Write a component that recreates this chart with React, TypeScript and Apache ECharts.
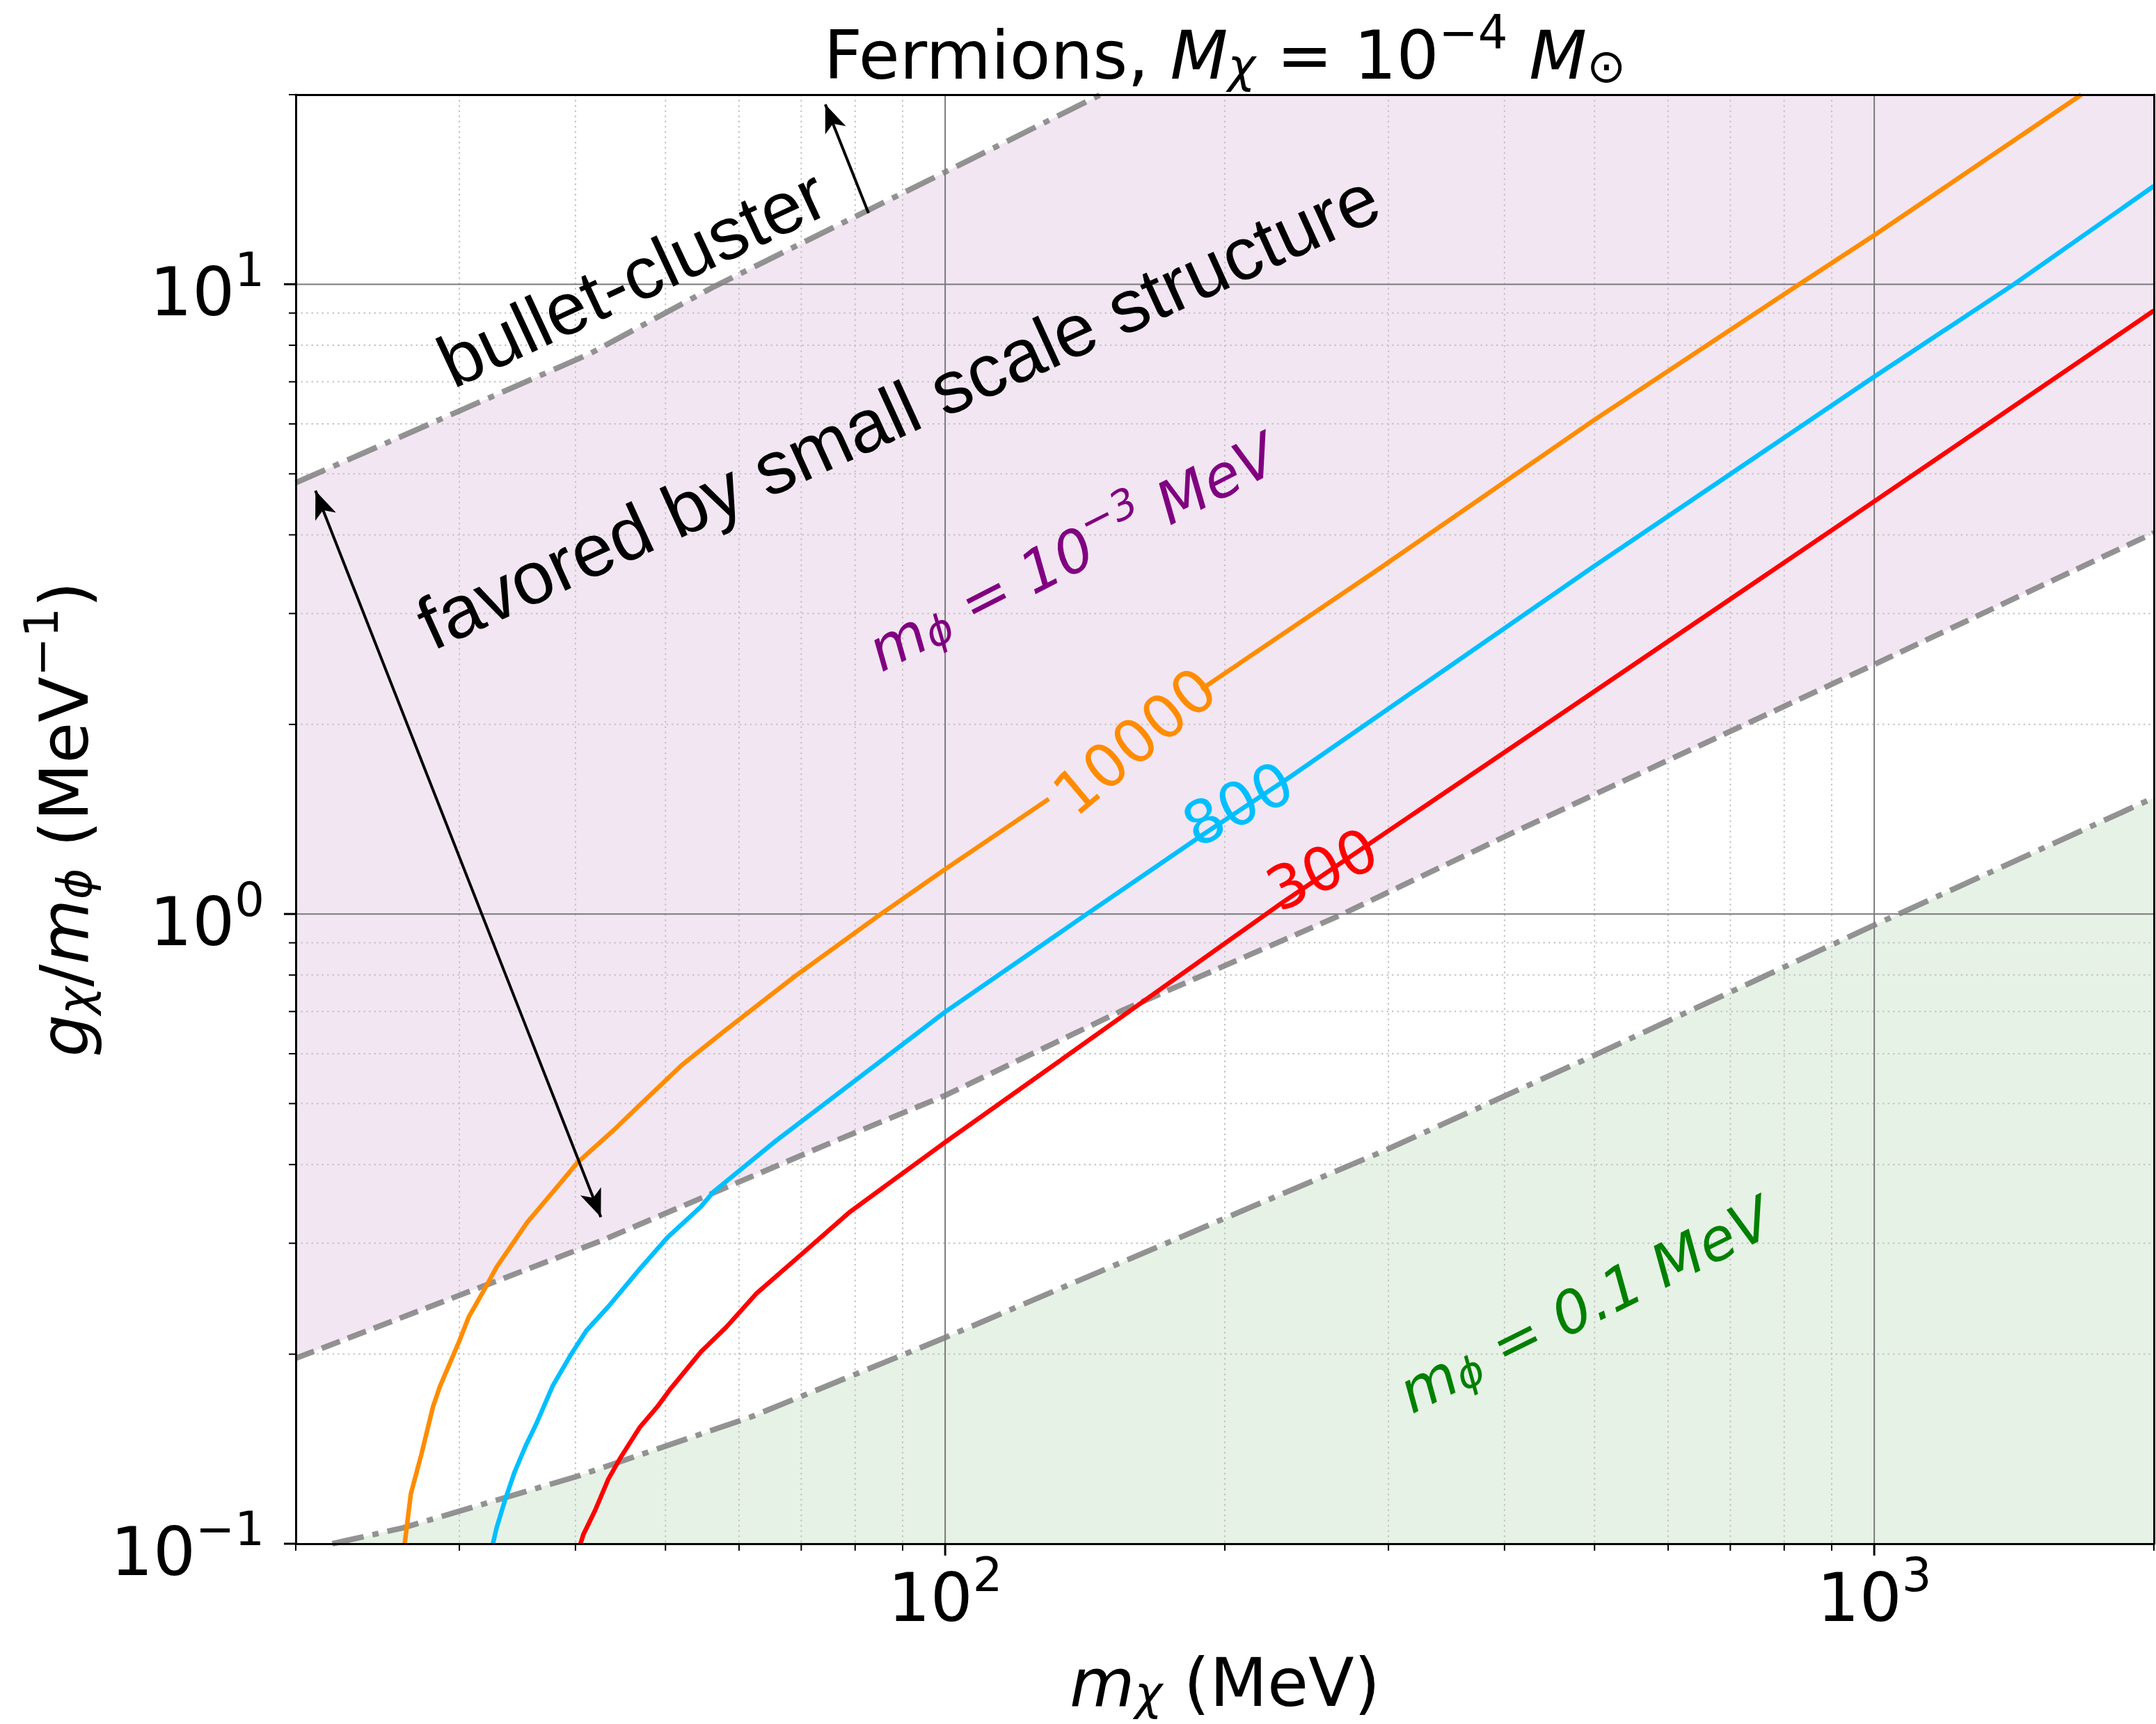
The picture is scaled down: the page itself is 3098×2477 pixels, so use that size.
import React, { useEffect, useRef } from "react";
import * as echarts from "echarts";

const W = 3098;
const H = 2477;
const X_MIN = 20;
const X_MAX = 2000;
const Y_MIN = 0.1;
const Y_MAX = 20;
const FONT = "DejaVu Sans";

// contour curves (m_chi, g/m_phi)
const orangeX = [26.2, 26.6, 27.3, 28.1, 28.6, 30.0, 30.7, 31.9, 32.9, 35.5, 38.6, 40.2, 44.0, 46.9, 52.1, 58.1, 68.8, 85.3, 100, 129.3, 188.7, 289.6, 498, 839, 1000, 1671];
const orangeY = [0.1, 0.12, 0.1385, 0.165, 0.178, 0.21, 0.229, 0.253, 0.275, 0.324, 0.375, 0.403, 0.454, 0.497, 0.576, 0.655, 0.795, 1.0, 1.178, 1.523, 2.275, 3.49, 6.07, 10.1, 11.96, 20.0];
const orangeGap = [129.3, 188.7];

const blueX = [32.6, 32.9, 33.6, 34.4, 35.4, 36.3, 37.8, 39.5, 41.1, 43.4, 46.9, 50.2, 54.6, 56.3, 65.7, 76.1, 100, 142.1, 188.9, 235.1, 498, 1000, 1414, 2000];
const blueY = [0.1, 0.106, 0.1174, 0.13, 0.1436, 0.155, 0.178, 0.199, 0.218, 0.238, 0.273, 0.306, 0.343, 0.362, 0.436, 0.514, 0.699, 1.0, 1.333, 1.651, 3.556, 7.13, 10.0, 14.32];

const redX = [40.5, 40.8, 42.0, 43.4, 44.7, 46.9, 49.0, 50.6, 54.6, 58.1, 62.7, 69.9, 79.0, 100, 158.2, 230.3, 295.7, 498.4, 1000, 2000];
const redY = [0.1, 0.1035, 0.113, 0.1267, 0.1368, 0.153, 0.165, 0.176, 0.2018, 0.2206, 0.25, 0.2874, 0.3366, 0.434, 0.702, 1.041, 1.336, 2.25, 4.52, 9.08];

// boundaries
const dashedX = [20, 42.7, 76.1, 100, 154.9, 266, 404, 498.5, 1000, 2000];
const dashedY = [0.197, 0.303, 0.436, 0.515, 0.702, 0.995, 1.336, 1.545, 2.49, 4.03];

const bulletX = [20, 41.4, 56.3, 100, 147];
const bulletY = [4.84, 7.75, 9.9, 15.07, 20];

const lowerX = [21.9, 26.1, 40.2, 61.8, 100, 214, 296, 498, 1000, 2000];
const lowerY = [0.1, 0.106, 0.128, 0.159, 0.2125, 0.343, 0.42, 0.595, 0.96, 1.53];

// ticks
const xMajorTicks = [100, 1000];
const xMinorTicks = [20, 30, 40, 50, 60, 70, 80, 90, 200, 300, 400, 500, 600, 700, 800, 900, 2000];
const yMajorTicks = [0.1, 1, 10];
const yMinorTicks = [0.2, 0.3, 0.4, 0.5, 0.6, 0.7, 0.8, 0.9, 2, 3, 4, 5, 6, 7, 8, 9, 20];

// arrows (data coords)
const arrowSmall = { from: [82.7, 12.97], to: [74.3, 19.3] };
const arrowDouble = { from: [21.0, 4.70], to: [42.6, 0.33] };

// annotations (centers in data coords)
const sansLabels = [
  { text: "bullet-cluster", x: 46.0, y: 10.25, rotate: 25, size: 106 },
  { text: "favored by small scale structure", x: 89.0, y: 6.3, rotate: 24.5, size: 107 },
];
const mathLabels = [
  { text: "{i|m}{sub|ϕ}{n| = }{i|10}{sup|−3}{i| MeV}", x: 136, y: 3.84, rotate: 27, color: "#800080" },
  { text: "{i|m}{sub|ϕ}{n| = }{i|0.1 MeV}", x: 485, y: 0.245, rotate: 26.5, color: "#008000" },
];
const contourLabels = [
  { text: "10000", x: 160, y: 1.88, rotate: 40, color: "#ff8c00" },
  { text: "800", x: 206.6, y: 1.495, rotate: 27, color: "#00bfff" },
  { text: "300", x: 254.5, y: 1.177, rotate: 25, color: "#ff0000" },
];

const zip = (xs: number[], ys: number[]) => xs.map((x, i) => [x, ys[i]]);

const mathRich = (F: number, color: string, italicAll = false) => {
  const base: any = { fontFamily: FONT, fontWeight: "normal", fontSize: F, color, fill: color, lineHeight: F * 1.25, verticalAlign: "bottom" };
  const small: any = { fontFamily: FONT, fontWeight: "normal", fontSize: F * 0.7, color, fill: color };
  return {
    n: { ...base, fontStyle: italicAll ? "italic" : "normal" },
    i: { ...base, fontStyle: "italic" },
    sub: { ...small, fontStyle: "italic", lineHeight: F * 0.64, verticalAlign: "bottom" },
    subr: { ...small, fontStyle: "normal", lineHeight: F * 0.64, verticalAlign: "bottom" },
    sup: { ...small, fontStyle: italicAll ? "italic" : "normal", lineHeight: F * 0.83, padding: [0, 0, F * 0.49, 0], verticalAlign: "bottom" },
  };
};

const logPow = (v: number) => {
  const l = Math.log10(v);
  const e = Math.round(l);
  return Math.abs(l - e) < 1e-6 ? e : null;
};
const powLabel = (v: number) => {
  const e = logPow(v);
  if (e === null) return "";
  return `{n|10}{sup|${e < 0 ? "−" + -e : e}}`;
};

const polygonSeries = (getPts: () => number[][], color: string) => ({
  type: "custom",
  coordinateSystem: "cartesian2d",
  data: [[X_MIN, Y_MIN]],
  z: 1,
  silent: true,
  renderItem: (params: any, api: any) => {
    const pts = getPts().map((p) => api.coord(p));
    const cs = params.coordSys;
    const clipped = echarts.graphic.clipPointsByRect(pts, { x: cs.x, y: cs.y, width: cs.width, height: cs.height });
    return { type: "polygon", shape: { points: clipped }, style: { fill: color, stroke: null } };
  },
});

const lineSeries = (data: number[][], color: string, width: number, type: any, z: number, extra: any = {}) => ({
  type: "line",
  data,
  showSymbol: false,
  symbol: "none",
  silent: true,
  z,
  lineStyle: { color, width, type, cap: "butt", join: "round" },
  ...extra,
});

const GRAY = "rgba(128,128,128,0.85)";
const DASHDOT = [46, 13, 9, 13];
const DASHED = [28, 12];

export default function App() {
  const ref = useRef<HTMLDivElement>(null);
  useEffect(() => {
    const chart = echarts.init(ref.current!, null, { renderer: "svg", width: W, height: H });
    const orangePts = zip(orangeX, orangeY);
    const orangeLow = orangePts.filter((p) => p[0] <= orangeGap[0]);
    const orangeHigh = orangePts.filter((p) => p[0] >= orangeGap[1]);

    const purplePoly = () => [...zip(bulletX, bulletY), [X_MAX, Y_MAX], ...zip(dashedX, dashedY).reverse()];
    const greenPoly = () => [...zip(lowerX, lowerY), [X_MAX, Y_MIN]];

    const axisCommon = (min: number, max: number) => ({
      type: "log",
      logBase: 10,
      min,
      max,
      z: 10,
      axisLine: { show: true, onZero: false, lineStyle: { color: "#000", width: 3 } },
      axisTick: { show: false },
      minorTick: { show: false },
      splitLine: { show: false },
    });

    const option: any = {
      animation: false,
      backgroundColor: "#fff",
      title: {
        text: "{n|Fermions, }{i|M}{sub|χ}{n| = 10}{sup|−4}{n| }{i|M}{subr|⊙}",
        left: 1760,
        textAlign: "center",
        top: 8,
        padding: 0,
        textStyle: { fontWeight: "normal", rich: mathRich(96, "#000") },
      },
      grid: { left: 425, right: 2, top: 136, bottom: 259, containLabel: false },
      xAxis: [
        {
          ...axisCommon(X_MIN, X_MAX),
          position: "bottom",
          axisLabel: { formatter: powLabel, margin: 6, rich: mathRich(96, "#000") },
          name: "{i|m}{sub|χ}{n| (MeV)}",
          nameLocation: "middle",
          nameGap: 128,
          nameTextStyle: { fontWeight: "normal", rich: mathRich(96, "#000") },
        },
        { ...axisCommon(X_MIN, X_MAX), position: "top", axisLabel: { show: false } },
      ],
      yAxis: [
        {
          ...axisCommon(Y_MIN, Y_MAX),
          position: "left",
          axisLabel: { formatter: powLabel, margin: 45, rich: mathRich(96, "#000") },
          name: "{i|g}{sub|χ}{n|/}{i|m}{sub|ϕ}{n| (MeV}{sup|−1}{n|)}",
          nameLocation: "middle",
          nameRotate: 90,
          nameGap: 284,
          nameTextStyle: { fontWeight: "normal", rich: mathRich(96, "#000") },
        },
        { ...axisCommon(Y_MIN, Y_MAX), position: "right", axisLabel: { show: false } },
      ],
      series: [
        polygonSeries(purplePoly, "#f2e6f2"),
        polygonSeries(greenPoly, "#e6f2e6"),
        lineSeries(zip(bulletX, bulletY), GRAY, 8, DASHDOT, 3),
        lineSeries(zip(lowerX, lowerY), GRAY, 8, DASHDOT, 3),
        lineSeries(zip(dashedX, dashedY), GRAY, 8, DASHED, 3, {
          markLine: {
            silent: true,
            animation: false,
            symbol: ["none", "arrow"],
            symbolSize: [24, 40],
            label: { show: false },
            lineStyle: { color: "#000", width: 4, type: "solid" },
            emphasis: { disabled: true },
            data: [
              [{ coord: arrowSmall.from, symbol: "none" }, { coord: arrowSmall.to, symbol: "arrow" }],
              [{ coord: arrowDouble.from, symbol: "arrow" }, { coord: arrowDouble.to, symbol: "arrow" }],
            ],
          },
        }),
        lineSeries(orangeLow, "#ff8c00", 6.5, "solid", 4),
        lineSeries(orangeHigh, "#ff8c00", 6.5, "solid", 4),
        lineSeries(zip(blueX, blueY), "#00bfff", 6.5, "solid", 4),
        lineSeries(zip(redX, redY), "#ff0000", 6.5, "solid", 4),
      ],
    };
    chart.setOption(option);

    const px = (v: number) => chart.convertToPixel({ xAxisIndex: 0 } as any, v) as number;
    const py = (v: number) => chart.convertToPixel({ yAxisIndex: 0 } as any, v) as number;
    const L = px(X_MIN), R = px(X_MAX), T = py(Y_MAX), B = py(Y_MIN);
    const els: any[] = [];
    const ln = (x1: number, y1: number, x2: number, y2: number, stroke: string, lw: number, dash: any, z: number) =>
      els.push({ type: "line", silent: true, z, shape: { x1, y1, x2, y2 }, style: { stroke, lineWidth: lw, lineDash: dash } });

    const minorC = "#c4c4c4";
    const majorC = "#7a7a7a";
    xMinorTicks.forEach((v) => {
      const x = px(v);
      if (v > X_MIN && v < X_MAX) ln(x, T, x, B, minorC, 2, [2.5, 5], 2);
      ln(x, B, x, B + 10, "#000", 2, null, 11);
    });
    yMinorTicks.forEach((v) => {
      const y = py(v);
      if (v > Y_MIN && v < Y_MAX) ln(L, y, R, y, minorC, 2, [2.5, 5], 2);
      ln(L - 10, y, L, y, "#000", 2, null, 11);
    });
    xMajorTicks.forEach((v) => {
      const x = px(v);
      ln(x, T, x, B, majorC, 2, null, 2);
      ln(x, B, x, B + 17, "#000", 3, null, 11);
    });
    yMajorTicks.forEach((v) => {
      const y = py(v);
      if (v > Y_MIN) ln(L, y, R, y, majorC, 2, null, 2);
      ln(L - 17, y, L, y, "#000", 3, null, 11);
    });

    sansLabels.forEach((t) => {
      els.push({
        type: "text", silent: true, z: 12,
        x: px(t.x), y: py(t.y), rotation: (t.rotate * Math.PI) / 180,
        style: { text: t.text, fontFamily: "Liberation Sans", fontSize: t.size, fill: "#000", align: "center", verticalAlign: "middle", textAlign: "center", textVerticalAlign: "middle" },
      });
    });
    mathLabels.forEach((t) => {
      els.push({
        type: "text", silent: true, z: 12,
        x: px(t.x), y: py(t.y), rotation: (t.rotate * Math.PI) / 180,
        style: { text: t.text, rich: mathRich(84, t.color, true), fill: t.color, align: "center", verticalAlign: "middle", textAlign: "center", textVerticalAlign: "middle" },
      });
    });
    contourLabels.forEach((t) => {
      els.push({
        type: "text", silent: true, z: 12,
        x: px(t.x), y: py(t.y), rotation: (t.rotate * Math.PI) / 180,
        style: { text: t.text, fontFamily: FONT, fontSize: 86, fill: t.color, align: "center", verticalAlign: "middle", textAlign: "center", textVerticalAlign: "middle" },
      });
    });

    chart.setOption({ graphic: { elements: els } });
    return () => chart.dispose();
  }, []);
  return <div ref={ref} style={{ position: "absolute", left: 0, top: 0, width: W, height: H, background: "#fff" }} />;
}
